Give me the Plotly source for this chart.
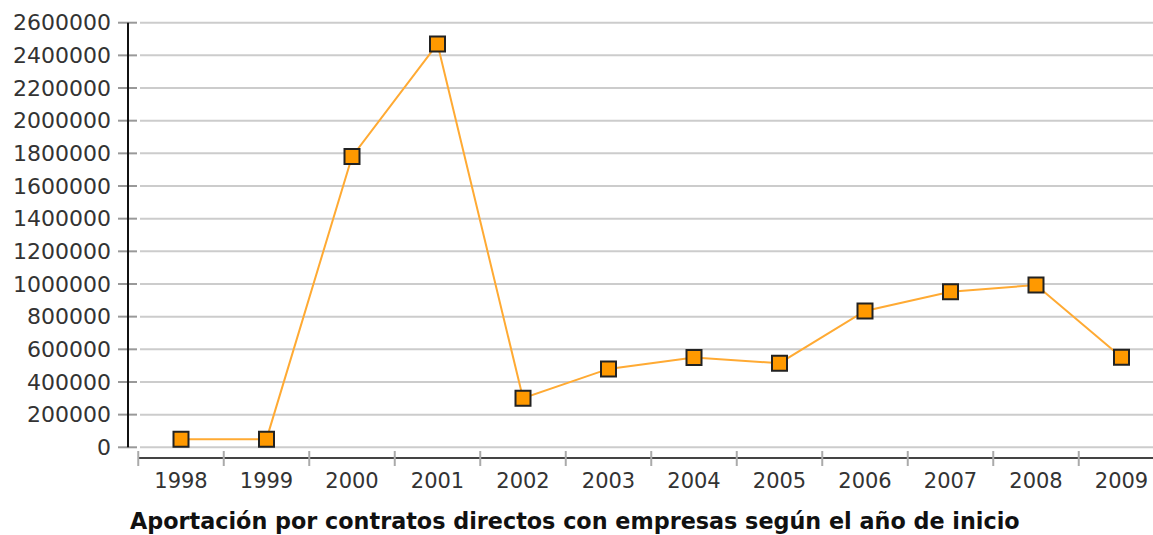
import plotly.graph_objects as go

years = ["1998", "1999", "2000", "2001", "2002", "2003", "2004", "2005", "2006", "2007", "2008", "2009"]
values = [50000, 50000, 1780000, 2470000, 300000, 480000, 550000, 515000, 835000, 953000, 994000, 551000]
y_ticks = list(range(0, 2600001, 200000))
title_text = "Aportación por contratos directos con empresas según el año de inicio"

W, H = 1153, 535
L, R, T, B = 118, 0, 20, 69
plot_w = W - L - R
plot_h = H - T - B
y0_px, ytop_px = 447.3, 22.7
k = (y0_px - ytop_px) / 2600000.0
y_min = -((H - B) - y0_px) / k
y_max = 2600000 + (ytop_px - T) / k
x_px0, x_step = 181.0, 85.5
x_min = (L - x_px0) / x_step
x_max = (W - R - x_px0) / x_step

def px_to_paper_x(p):
    return (p - L) / plot_w

def px_to_paper_y(p):
    return ((H - B) - p) / plot_h

fig = go.Figure()
fig.add_trace(go.Scatter(
    x=years, y=values, mode="lines+markers",
    line=dict(color="#FFAA33", width=2),
    marker=dict(symbol="square", size=15, color="#FF9900",
                line=dict(color="#222222", width=2)),
    hoverinfo="x+y",
))

shapes = []
for v in y_ticks:
    shapes.append(dict(type="line", xref="paper", yref="y",
                       x0=px_to_paper_x(140), x1=1, y0=v, y1=v,
                       line=dict(color="#CCCCCC", width=2), layer="below"))
    shapes.append(dict(type="line", xref="paper", yref="y",
                       x0=0, x1=px_to_paper_x(137), y0=v, y1=v,
                       line=dict(color="#999999", width=2), layer="below"))
shapes.append(dict(type="line", xref="paper", yref="y",
                   x0=px_to_paper_x(128), x1=px_to_paper_x(128),
                   y0=0, y1=y_ticks[-1],
                   line=dict(color="#111111", width=2)))
shapes.append(dict(type="line", xref="paper", yref="paper",
                   x0=px_to_paper_x(139), x1=1,
                   y0=px_to_paper_y(458), y1=px_to_paper_y(458),
                   line=dict(color="#444444", width=2)))
for i in range(len(years)):
    xb = i - 0.5
    shapes.append(dict(type="line", xref="x", yref="paper",
                       x0=xb, x1=xb, y0=px_to_paper_y(466), y1=px_to_paper_y(451),
                       line=dict(color="#AAAAAA", width=2)))

fig.update_layout(
    width=W, height=H,
    margin=dict(l=L, r=R, t=T, b=B, pad=0),
    paper_bgcolor="white", plot_bgcolor="white",
    showlegend=False,
    shapes=shapes,
    font=dict(family="DejaVu Sans", size=21, color="#333333"),
    xaxis=dict(type="category", range=[x_min, x_max], showgrid=False,
               zeroline=False, showline=False, ticks="",
               tickfont=dict(size=21, color="#333333")),
    yaxis=dict(range=[y_min, y_max], tickvals=y_ticks,
               ticktext=[str(v) for v in y_ticks],
               showgrid=False, zeroline=False, showline=False, ticks="",
               ticklabelstandoff=6,
               tickfont=dict(size=22, color="#333333")),
    annotations=[dict(text="<b>" + title_text + "</b>", xref="paper", yref="paper",
                      x=px_to_paper_x(575), y=px_to_paper_y(521),
                      xanchor="center", yanchor="middle", showarrow=False,
                      font=dict(size=22.3, color="#111111", family="DejaVu Sans"))],
)

fig.write_html("out.html", config={"displayModeBar": False},
               post_script="document.body.style.margin='0';document.body.style.overflow='hidden';")
